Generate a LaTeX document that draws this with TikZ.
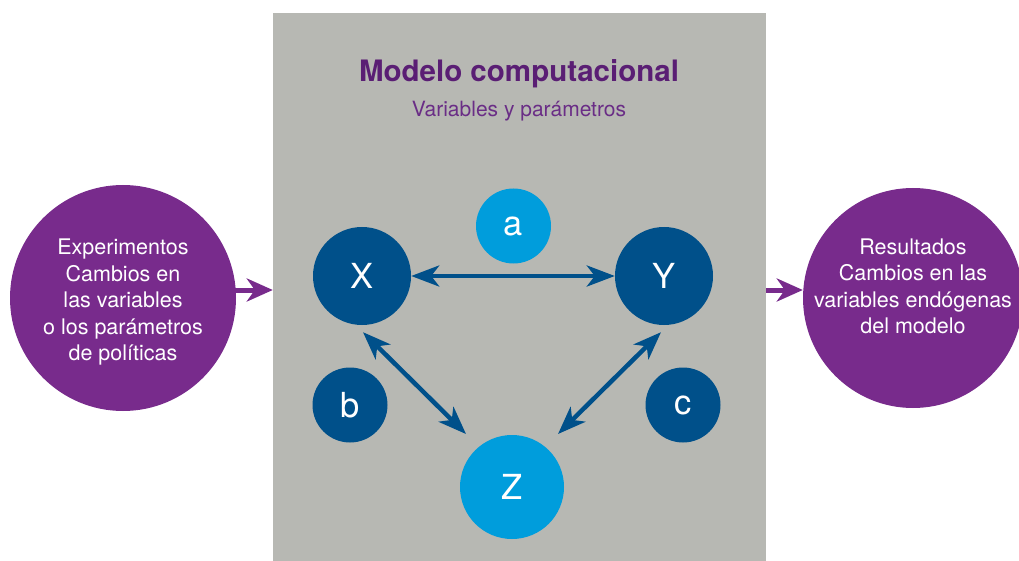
\documentclass[tikz,border=0pt]{standalone}
\usepackage{fontspec}
\setmainfont{TeX Gyre Heros}
\usetikzlibrary{arrows.meta,calc}
\definecolor{grayback}{HTML}{B7B8B3}
\definecolor{purplec}{HTML}{782B8C}
\definecolor{titlep}{HTML}{5A1E74}
\definecolor{subp}{HTML}{6A2D86}
\definecolor{darkb}{HTML}{00508A}
\definecolor{lightb}{HTML}{009DDC}
\tikzset{
  outer/.style={circle,fill=purplec,inner sep=0pt,minimum size=226pt},
  outertext/.style={text=white,align=center,font=\fontsize{21.5}{26.5}\selectfont},
  varnode/.style={circle,inner sep=0pt,text=white,font=\fontsize{34.5}{36}\selectfont},
  bigdark/.style={varnode,fill=darkb,minimum size=98pt},
  smalldark/.style={varnode,fill=darkb,minimum size=75pt},
  smalllight/.style={varnode,fill=lightb,minimum size=75pt},
  biglight/.style={varnode,fill=lightb,minimum size=104pt},
  barrow/.style={draw=darkb,line width=4.5pt,{Stealth[length=28pt,width=21pt,inset=8pt]}-{Stealth[length=28pt,width=21pt,inset=8pt]}},
  parrow/.style={draw=purplec,line width=5pt,-{Stealth[length=26pt,width=23pt,inset=8pt]}},
}
\begin{document}
\begin{tikzpicture}[x=1pt,y=-1pt]
\useasboundingbox (0,0) rectangle (1019,561);
\node[fill=grayback,minimum width=493pt,minimum height=548pt,inner sep=0pt] (model) at (519.5,287) {};
\node[text=titlep,font=\fontsize{29.5}{32}\selectfont\bfseries] (title) at (519,74) {Modelo computacional};
\node[text=subp,font=\fontsize{21}{24}\selectfont] (sub) at (519,111.5) {Variables y parámetros};
\node[outer] (L) at (123,298) {};
\node[outertext] (Lt) at (123,302.5) {Experimentos\\Cambios en\\las variables\\o los parámetros\\de políticas};
\node[outer,minimum size=220pt] (R) at (913,298) {};
\node[outertext] (Rt) at (913,286.5) {Resultados\\Cambios en las\\variables endógenas\\del modelo};
\node[bigdark] (X) at (362,276) {X};
\node[bigdark] (Y) at (664,276) {Y};
\node[smalllight] (a) at (513.5,226) {a};
\node[smalldark] (b) at (350,405) {b};
\node[smalldark] (c) at (683,405) {c};
\node[biglight] (Z) at (512,487) {Z};
\draw[barrow] (X) -- (Y);
\draw[barrow] ([shift={(1,7)}]X.south) -- ([shift={(-46,-53)}]Z.center);
\draw[barrow] ([shift={(-3,7)}]Y.south) -- ([shift={(46,-53)}]Z.center);
\draw[parrow] ([shift={(-3,-8)}]L.east) -- ([shift={(0,-8)}]L.east -| model.west);
\draw[parrow] ([shift={(0,-8)}]R.west -| model.east) -- ([shift={(0,-8)}]R.west);
\end{tikzpicture}
\end{document}
